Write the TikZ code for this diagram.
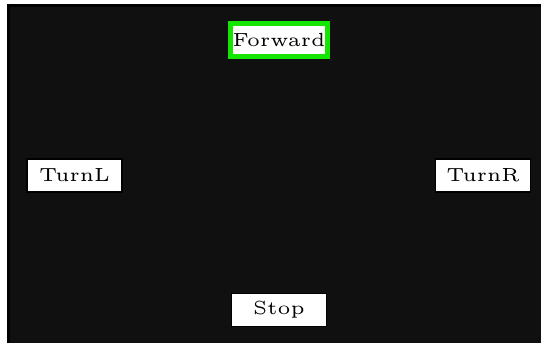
\documentclass[tikz,border=0pt]{standalone}
\usepackage{xcolor}
\definecolor{panelbg}{RGB}{16,16,16}
\definecolor{activegreen}{RGB}{20,230,0}

\begin{document}
\begin{tikzpicture}[x=0.263pt, y=-0.263pt,
    statebox/.style={draw=black, fill=white, rectangle, font=\tiny,
      minimum width=25pt, minimum height=8.7pt, inner xsep=0.5pt, inner ysep=1pt},
    activebox/.style={statebox, draw=activegreen, line width=1.2pt}]
  \useasboundingbox (0,0) rectangle (541,343);
  \clip (0,0) rectangle (541,343);

  % --- dark panel ---
  \draw[black, line width=0.8pt, fill=panelbg] (8.5,5.5) rectangle (560,360);

  % --- the four states ---
  \node[activebox] (fwd)   at (279,40)    {Forward};
  \node[statebox]  (turnl) at (74.5,175.5) {TurnL};
  \node[statebox]  (turnr) at (483,175.5)  {TurnR};
  \node[statebox]  (stop)  at (279,310)    {Stop};
\end{tikzpicture}
\end{document}
